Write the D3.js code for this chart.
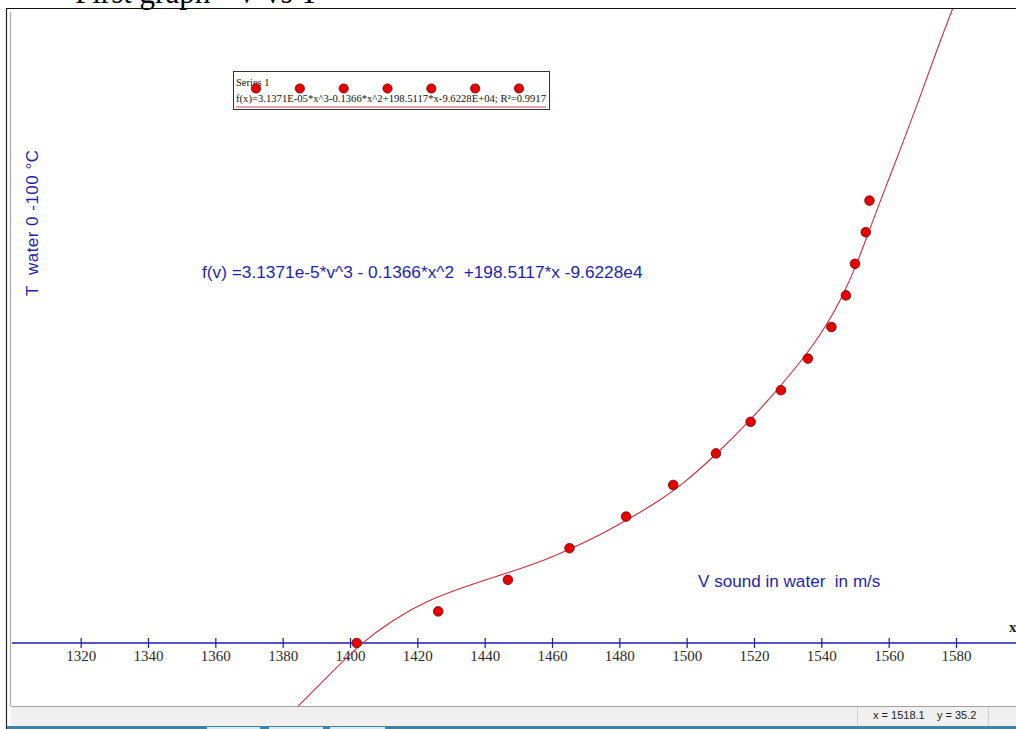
<!DOCTYPE html>
<html>
<head>
<meta charset="utf-8">
<script src="https://cdn.jsdelivr.net/npm/d3@7"></script>
<style>
  html, body { margin: 0; padding: 0; background: #fff; }
  svg { display: block; }
  text { white-space: pre; }
</style>
</head>
<body>
<svg id="chart" width="1016" height="729"></svg>
<script>
// ---- data ----
const tempsC   = [0, 5, 10, 15, 20, 25, 30, 35, 40, 45, 50, 55, 60, 65, 70];
const speedsMs = [1402.0, 1426.2, 1446.9, 1465.2, 1482.0, 1496.0, 1508.7, 1519.0,
                  1528.0, 1536.0, 1543.0, 1547.3, 1550.0, 1553.2, 1554.3];
// trend-line samples
const curveV = [1382.2, 1384.6, 1394.1, 1403.3, 1412.5, 1423.2, 1435.6, 1447.5, 1457.9,
                1465.9, 1474.3, 1483.8, 1492.1, 1498.6, 1509.3, 1518.5, 1526.8, 1534.5,
                1541.1, 1546.4, 1550.4, 1554.0, 1557.4, 1563.4, 1569.0, 1574.3, 1578.5, 1580.0];
const curveT = [-11.2, -10.0, -4.9, 0.0, 3.6, 6.8, 9.2, 11.2, 13.1,
                15.0, 17.1, 19.9, 22.6, 25.0, 30.1, 35.0, 40.0, 44.9,
                49.8, 54.9, 59.8, 64.9, 69.8, 78.0, 85.9, 93.8, 99.7, 101.7];
const xTicks = [1320, 1340, 1360, 1380, 1400, 1420, 1440, 1460, 1480, 1500, 1520, 1540, 1560, 1580];
const titleText = "First graph - V vs T";
const seriesName = "Series 1";
const legendFormula = "f(x)=3.1371E-05*x^3-0.1366*x^2+198.5117*x-9.6228E+04; R\u00B2=0.9917";
const equationText = "f(v) =3.1371e-5*v^3 - 0.1366*x^2  +198.5117*x -9.6228e4";
const yLabel = "T  water 0 -100 \u00B0C";
const xLabel = "V sound in water  in m/s";
const statusText = "x = 1518.1    y = 35.2";

// ---- drawing ----
const svg = d3.select("#chart");
const W = 1016, H = 729;
const plot = {left: 12, top: 9, right: 1016, bottom: 706};

const x = d3.scaleLinear().domain([1300, 1600]).range([13.33, 1023.33]);
const y = d3.scaleLinear().domain([-10, 100]).range([706.2, 11]);

// title (mostly cut off at the top of the picture, as in the reference)
svg.append("text").attr("x", 75).attr("y", 3)
  .attr("font-family", "Liberation Serif, Times New Roman, serif")
  .attr("font-size", 31).attr("fill", "#000").text(titleText);

// window frame
svg.append("line").attr("x1", 6).attr("x2", W).attr("y1", 8.5).attr("y2", 8.5)
  .attr("stroke", "#111").attr("stroke-width", 1.2);
svg.append("line").attr("x1", 6.5).attr("x2", 6.5).attr("y1", 8).attr("y2", H)
  .attr("stroke", "#222").attr("stroke-width", 1.2);
svg.append("line").attr("x1", 10.5).attr("x2", 10.5).attr("y1", 12).attr("y2", 706)
  .attr("stroke", "#a8a8a8").attr("stroke-width", 1.2);

// clip for plot area
svg.append("defs").append("clipPath").attr("id", "plotclip")
  .append("rect").attr("x", plot.left).attr("y", plot.top)
  .attr("width", plot.right - plot.left).attr("height", plot.bottom - plot.top);

const g = svg.append("g").attr("clip-path", "url(#plotclip)");

// x axis
const axis = d3.axisBottom(x).tickValues(xTicks).tickFormat(d3.format("d")).tickSize(5);
const ax = g.append("g").attr("transform", `translate(0,${y(0)})`).call(axis);
ax.select(".domain").remove();
ax.selectAll(".tick line").attr("y1", -5).attr("y2", 5).attr("stroke", "#1a1ab4").attr("stroke-width", 1.2);
ax.selectAll(".tick text").attr("y", 0).attr("dy", 17.5)
  .attr("font-family", "Liberation Serif, Times New Roman, serif")
  .attr("font-size", 15).attr("fill", "#2a2a2a");
g.append("line").attr("x1", plot.left).attr("x2", plot.right)
  .attr("y1", y(0)).attr("y2", y(0))
  .attr("stroke", "#1a1ab4").attr("stroke-width", 1.7);
svg.append("text").attr("x", 1009).attr("y", 632)
  .attr("font-family", "Liberation Serif, serif").attr("font-size", 15)
  .attr("font-weight", "bold").attr("fill", "#222").text("x");

// trend line
const curvePts = curveV.map((v, i) => [v, curveT[i]]);
g.append("path").datum(curvePts)
  .attr("d", d3.line().x(d => x(d[0])).y(d => y(d[1])).curve(d3.curveBasis))
  .attr("fill", "none").attr("stroke", "#d42b3a").attr("stroke-width", 1.1);

// data points
g.selectAll("circle.pt").data(speedsMs.map((v, i) => [v, tempsC[i]]))
  .enter().append("circle").attr("class", "pt")
  .attr("cx", d => x(d[0])).attr("cy", d => y(d[1])).attr("r", 4.8)
  .attr("fill", "#e60000").attr("stroke", "#7a0000").attr("stroke-width", 0.8);

// axis titles
svg.append("text")
  .attr("transform", "translate(38,296) rotate(-90)")
  .attr("font-family", "Liberation Sans, Arial, sans-serif")
  .attr("font-size", 17).attr("fill", "#1f1fb0")
  .attr("textLength", 146).attr("lengthAdjust", "spacing")
  .text(yLabel);
svg.append("text").attr("x", 698).attr("y", 587)
  .attr("font-family", "Liberation Sans, Arial, sans-serif")
  .attr("font-size", 17.1).attr("fill", "#1f1fb0").text(xLabel);
svg.append("text").attr("x", 202).attr("y", 278)
  .attr("font-family", "Liberation Sans, Arial, sans-serif")
  .attr("font-size", 17.3).attr("fill", "#1f1fb0").text(equationText);

// legend
const lg = svg.append("g");
lg.append("rect").attr("x", 233.5).attr("y", 71.5).attr("width", 316).attr("height", 38)
  .attr("fill", "#fff").attr("stroke", "#333").attr("stroke-width", 1);
lg.append("text").attr("x", 236).attr("y", 86)
  .attr("font-family", "Liberation Serif, serif").attr("font-size", 10.5)
  .attr("fill", "#111").text(seriesName);
const legendDots = d3.range(7);
const lx = d3.scaleLinear().domain([0, 6]).range([256, 519]);
lg.selectAll("circle").data(legendDots).enter().append("circle")
  .attr("cx", d => lx(d)).attr("cy", 88.5).attr("r", 4.6)
  .attr("fill", "#e60000").attr("stroke", "#7a0000").attr("stroke-width", 0.8);
lg.append("text").attr("x", 236).attr("y", 101.5)
  .attr("font-family", "Liberation Serif, serif").attr("font-size", 10.5)
  .attr("fill", "#111").attr("textLength", 310).attr("lengthAdjust", "spacingAndGlyphs")
  .text(legendFormula);
lg.append("line").attr("x1", 236).attr("x2", 546).attr("y1", 107).attr("y2", 107)
  .attr("stroke", "#d64a55").attr("stroke-width", 1);

// status bar
svg.append("rect").attr("x", 11).attr("y", 706).attr("width", W - 11).attr("height", 20)
  .attr("fill", "#f0f0f0");
svg.append("line").attr("x1", 11).attr("x2", W).attr("y1", 706.5).attr("y2", 706.5)
  .attr("stroke", "#a0a0a0").attr("stroke-width", 1);
[857, 988].forEach(sx => {
  svg.append("line").attr("x1", sx + 0.5).attr("x2", sx + 0.5).attr("y1", 707).attr("y2", 726)
    .attr("stroke", "#d0d0d0").attr("stroke-width", 1);
});
svg.append("text").attr("x", 873).attr("y", 719)
  .attr("font-family", "Liberation Sans, Arial, sans-serif").attr("font-size", 11)
  .attr("fill", "#222").text(statusText);

// task bar strip
svg.append("rect").attr("x", 7).attr("y", 726).attr("width", W - 7).attr("height", 3)
  .attr("fill", "#3b84a2");
[[207, 53], [269, 54], [330, 55]].forEach(([tx, tw]) => {
  svg.append("rect").attr("x", tx).attr("y", 727).attr("width", tw).attr("height", 2)
    .attr("fill", "#dde8ee");
});
</script>
</body>
</html>
